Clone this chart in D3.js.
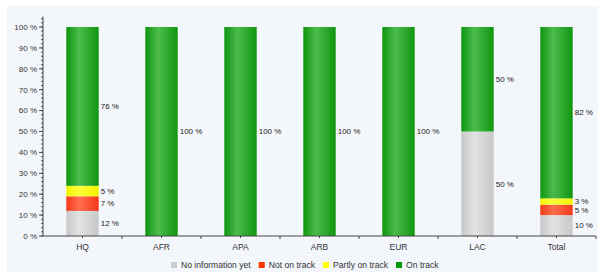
<!DOCTYPE html>
<html>
<head>
  <script src="https://cdn.jsdelivr.net/npm/d3@7"></script>
  <style>body { margin: 0; background: #fff; } svg { display: block; }</style>
</head>
<body>
  <div id="chart"></div>
  <script>
    // chart data
    const categories = ['HQ', 'AFR', 'APA', 'ARB', 'EUR', 'LAC', 'Total'];
    const seriesNames = ['No information yet', 'Not on track', 'Partly on track', 'On track'];
    const noInfo  = [12, 0, 0, 0, 0, 50, 10];
    const notOn   = [7, 0, 0, 0, 0, 0, 5];
    const partly  = [5, 0, 0, 0, 0, 0, 3];
    const onTrack = [76, 100, 100, 100, 100, 50, 82];
    const yTicks = [0, 10, 20, 30, 40, 50, 60, 70, 80, 90, 100];

    const colors = [
      { edge: '#c8c8c8', mid: '#e2e2e2' },
      { edge: '#f5381a', mid: '#ff6e4e' },
      { edge: '#f2f200', mid: '#ffff3a' },
      { edge: '#0e960e', mid: '#4dbb4d' }
    ];
    const legendColors = ['#cccccc', '#ff3300', '#ffff00', '#009900'];

    const W = 598, H = 272;
    const mLeft = 43, mRight = 596, mTop = 27, mBottom = 236;

    const svg = d3.select('#chart').append('svg')
      .attr('width', W).attr('height', H)
      .style('font-family', 'Liberation Sans, Arial, sans-serif');

    svg.append('rect').attr('x', 7).attr('y', 6)
      .attr('width', W - 7).attr('height', H - 6)
      .attr('fill', '#f3f6fb');

    const x = d3.scaleBand().domain(categories).range([mLeft, mRight])
      .paddingInner(0.59).paddingOuter(0.295);
    const y = d3.scaleLinear().domain([0, 100]).range([mBottom, mTop]);

    const defs = svg.append('defs');
    colors.forEach((c, i) => {
      const g = defs.append('linearGradient').attr('id', 'g' + i)
        .attr('x1', 0).attr('x2', 1).attr('y1', 0).attr('y2', 0);
      g.append('stop').attr('offset', '0%').attr('stop-color', c.edge);
      g.append('stop').attr('offset', '40%').attr('stop-color', c.mid);
      g.append('stop').attr('offset', '100%').attr('stop-color', c.edge);
    });

    const table = categories.map((c, i) => ({
      cat: c, 0: noInfo[i], 1: notOn[i], 2: partly[i], 3: onTrack[i]
    }));
    const stack = d3.stack().keys([0, 1, 2, 3])(table);

    // bars
    const labels = [];
    stack.forEach((layer, k) => {
      const g = svg.append('g');
      layer.forEach(d => {
        if (d[1] - d[0] <= 0) return;
        g.append('rect')
          .attr('x', x(d.data.cat))
          .attr('y', y(d[1]))
          .attr('width', x.bandwidth())
          .attr('height', y(d[0]) - y(d[1]))
          .attr('fill', `url(#g${k})`);
        labels.push({ cat: d.data.cat, ly: y((d[0] + d[1]) / 2), v: Math.round(d[1] - d[0]) });
      });
    });

    // nudge labels that sit too close (small segments)
    categories.forEach(c => {
      const ls = labels.filter(l => l.cat === c).sort((a, b) => b.ly - a.ly);
      for (let i = 1; i < ls.length; i++) {
        const gap = ls[i - 1].ly - ls[i].ly;
        if (gap < 9) {
          const sh = (9 - gap) / 2;
          ls[i - 1].ly += sh;
          ls[i].ly -= sh;
        }
      }
    });
    svg.append('g').selectAll('text').data(labels).join('text')
      .attr('x', d => x(d.cat) + x.bandwidth() + 2)
      .attr('y', d => d.ly)
      .attr('dy', '0.35em')
      .attr('font-size', 8)
      .attr('fill', '#222')
      .text(d => d.v + ' %');

    // y axis
    const yAxis = svg.append('g').attr('transform', `translate(${mLeft},0)`);
    yAxis.append('line').attr('x1', 0).attr('x2', 0)
      .attr('y1', y(105)).attr('y2', mBottom).attr('stroke', '#444');
    d3.range(0, 106, 2).forEach(v => {
      yAxis.append('line').attr('x1', -2).attr('x2', 0)
        .attr('y1', y(v)).attr('y2', y(v)).attr('stroke', '#555');
    });
    yTicks.forEach(v => {
      yAxis.append('line').attr('x1', -4).attr('x2', 0)
        .attr('y1', y(v)).attr('y2', y(v)).attr('stroke', '#444');
      yAxis.append('text').attr('x', -6).attr('y', y(v)).attr('dy', '0.35em')
        .attr('text-anchor', 'end').attr('font-size', 8).attr('fill', '#333')
        .text(v + ' %');
    });

    // x axis
    const xAxis = svg.append('g');
    xAxis.append('line').attr('x1', mLeft).attr('x2', mRight)
      .attr('y1', mBottom).attr('y2', mBottom).attr('stroke', '#444');
    categories.forEach((c, i) => {
      const cx = x(c) + x.bandwidth() / 2;
      xAxis.append('line').attr('x1', cx).attr('x2', cx)
        .attr('y1', mBottom).attr('y2', mBottom + 2).attr('stroke', '#444');
      const bx = mLeft + x.step() * (i + 1);
      xAxis.append('line').attr('x1', bx).attr('x2', bx)
        .attr('y1', mBottom).attr('y2', mBottom + 3).attr('stroke', '#444');
      xAxis.append('text').attr('x', cx).attr('y', 247).attr('dy', '0.35em')
        .attr('text-anchor', 'middle').attr('font-size', 8.5).attr('fill', '#333')
        .text(c);
    });

    // legend
    const legend = svg.append('g');
    let lx = 171;
    seriesNames.forEach((n, i) => {
      legend.append('rect').attr('x', lx).attr('y', 262)
        .attr('width', 6).attr('height', 6).attr('fill', legendColors[i]);
      const t = legend.append('text').attr('x', lx + 10).attr('y', 265)
        .attr('dy', '0.35em').attr('font-size', 8.6).attr('fill', '#333').text(n);
      lx += 10 + t.node().getComputedTextLength() + 8;
    });
  </script>
</body>
</html>
